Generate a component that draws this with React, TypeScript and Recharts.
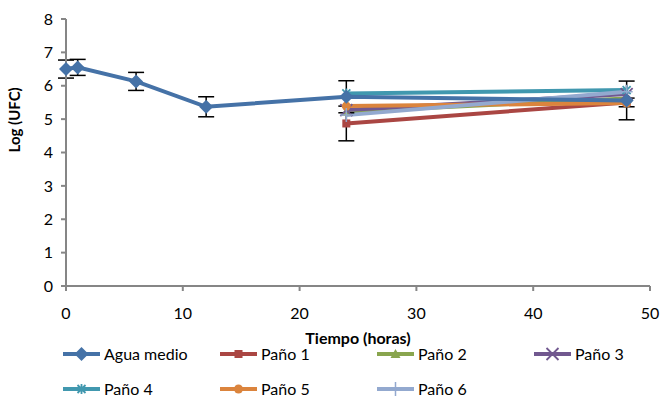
import { LineChart, Line, XAxis, YAxis, ErrorBar, Legend } from "recharts";

// Tiempo (horas) / Log (UFC)
const aguaHours = [0, 1, 6, 12, 24, 48];
const aguaValues = [6.5, 6.55, 6.13, 5.37, 5.67, 5.56];
const aguaErrors = [0.27, 0.24, 0.27, 0.3, 0.48, 0.58];

const panoHours = [24, 48];
const pano1 = [4.87, 5.5];
const pano1Err = [0.52, 0.13];
const pano2 = [5.22, 5.62];
const pano3 = [5.27, 5.75];
const pano4 = [5.77, 5.87];
const pano5 = [5.39, 5.48];
const pano6 = [5.12, 5.82];

const xTicks = [0, 10, 20, 30, 40, 50];
const yTicks = [0, 1, 2, 3, 4, 5, 6, 7, 8];

const FONT = "Lato, 'Open Sans', sans-serif";

type MarkerKind = "diamond" | "square" | "triangle" | "cross" | "star" | "circle" | "plus";

const series: { name: string; color: string; marker: MarkerKind; values: number[]; errors?: number[] }[] = [
  { name: "Paño 1", color: "#AA4643", marker: "square", values: pano1, errors: pano1Err },
  { name: "Paño 2", color: "#89A54E", marker: "triangle", values: pano2 },
  { name: "Paño 3", color: "#71588F", marker: "cross", values: pano3 },
  { name: "Paño 4", color: "#4198AF", marker: "star", values: pano4 },
  { name: "Paño 5", color: "#DB843D", marker: "circle", values: pano5 },
  { name: "Paño 6", color: "#93A9CF", marker: "plus", values: pano6 },
];

const legendItems: { name: string; color: string; marker: MarkerKind }[] = [
  { name: "Agua medio", color: "#4572A7", marker: "diamond" },
  ...series.map((s) => ({ name: s.name, color: s.color, marker: s.marker })),
];

function Marker({ kind, cx, cy, color }: { kind: MarkerKind; cx: number; cy: number; color: string }) {
  switch (kind) {
    case "diamond":
      return <path d={`M${cx},${cy - 7}L${cx + 7},${cy}L${cx},${cy + 7}L${cx - 7},${cy}Z`} fill={color} />;
    case "square":
      return <rect x={cx - 4} y={cy - 4} width={8} height={8} fill={color} />;
    case "triangle":
      return <path d={`M${cx},${cy - 5}L${cx + 5},${cy + 4}L${cx - 5},${cy + 4}Z`} fill={color} />;
    case "cross":
      return (
        <path d={`M${cx - 6},${cy - 6}L${cx + 6},${cy + 6}M${cx - 6},${cy + 6}L${cx + 6},${cy - 6}`} stroke={color} strokeWidth={1.8} />
      );
    case "star":
      return (
        <path
          d={`M${cx - 4},${cy - 4}L${cx + 4},${cy + 4}M${cx - 4},${cy + 4}L${cx + 4},${cy - 4}M${cx},${cy - 5}L${cx},${cy + 5}`}
          stroke={color}
          strokeWidth={1.8}
        />
      );
    case "circle":
      return <circle cx={cx} cy={cy} r={4.5} fill={color} />;
    case "plus":
      return <path d={`M${cx - 6},${cy}L${cx + 6},${cy}M${cx},${cy - 7}L${cx},${cy + 7}`} stroke={color} strokeWidth={1.5} />;
  }
}

const makeDot = (kind: MarkerKind, color: string) => (props: any) => {
  const { cx, cy, key } = props;
  if (cx == null || cy == null) return <g key={key} />;
  return (
    <g key={key}>
      <Marker kind={kind} cx={cx} cy={cy} color={color} />
    </g>
  );
};

function CustomLegend() {
  return (
    <div style={{ fontFamily: FONT, fontSize: 16, color: "#000", width: 661, height: 54, overflow: "visible" }}>
      {[legendItems.slice(0, 4), legendItems.slice(4)].map((row, r) => (
        <div key={r} style={{ display: "flex", height: 20, alignItems: "center", marginTop: r === 0 ? 0 : 15, paddingLeft: 63 }}>
          {row.map((item) => (
            <div key={item.name} style={{ width: 157, display: "flex", alignItems: "center", flexShrink: 0 }}>
              <svg width={37} height={16}>
                <line x1={0} y1={8} x2={37} y2={8} stroke={item.color} strokeWidth={4} />
                <Marker kind={item.marker} cx={18.5} cy={8} color={item.color} />
              </svg>
              <span style={{ marginLeft: 4, lineHeight: "16px" }}>{item.name}</span>
            </div>
          ))}
        </div>
      ))}
    </div>
  );
}

export default function App() {
  const aguaData = aguaHours.map((h, i) => ({ hora: h, value: aguaValues[i], err: aguaErrors[i] }));
  return (
    <div style={{ position: "absolute", left: 0, top: 0, width: 661, height: 398, background: "#fff" }}>
      <LineChart
        width={661}
        height={398}
        margin={{ top: 19, right: 11, left: 0, bottom: 0 }}
        style={{ fontFamily: FONT }}
      >
        <XAxis
          type="number"
          dataKey="hora"
          domain={[0, 50]}
          ticks={xTicks}
          allowDuplicatedCategory={false}
          stroke="#868686"
          strokeWidth={2}
          tickSize={5}
          tickMargin={17}
          tick={{ fill: "#000", fontSize: 16 }}
          height={58}
          label={{ value: "Tiempo (horas)", position: "insideBottom", offset: 0, fill: "#000", fontSize: 16, fontWeight: "bold" }}
        />
        <YAxis
          type="number"
          domain={[0, 8]}
          ticks={yTicks}
          stroke="#868686"
          strokeWidth={2}
          tickSize={5}
          tickMargin={8}
          tick={{ fill: "#000", fontSize: 16 }}
          width={66}
          label={{ value: "Log (UFC)", angle: -90, position: "insideLeft", offset: 15, fill: "#000", fontSize: 15, fontWeight: "bold" }}
        />
        <Legend verticalAlign="bottom" content={() => <CustomLegend />} wrapperStyle={{ left: 0, bottom: 0 }} />
        {series.map((s) => (
          <Line
            key={s.name}
            data={panoHours.map((h, i) => ({ hora: h, value: s.values[i], err: s.errors ? s.errors[i] : 0 }))}
            dataKey="value"
            name={s.name}
            stroke={s.color}
            strokeWidth={4}
            dot={makeDot(s.marker, s.color)}
            activeDot={false}
            isAnimationActive={false}
          >
            {s.errors ? <ErrorBar dataKey="err" direction="y" width={8} stroke="#000" strokeWidth={1.5} /> : null}
          </Line>
        ))}
        <Line
          data={aguaData}
          dataKey="value"
          name="Agua medio"
          stroke="#4572A7"
          strokeWidth={4}
          dot={makeDot("diamond", "#4572A7")}
          activeDot={false}
          isAnimationActive={false}
        >
          <ErrorBar dataKey="err" direction="y" width={8} stroke="#000" strokeWidth={1.5} />
        </Line>
      </LineChart>
    </div>
  );
}
